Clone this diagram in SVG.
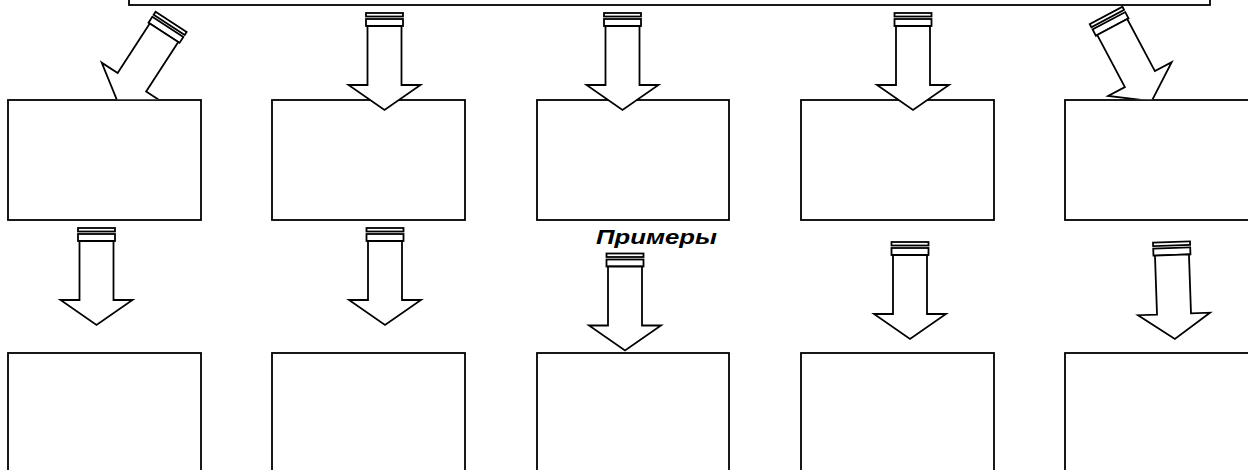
<svg xmlns="http://www.w3.org/2000/svg" xmlns:xlink="http://www.w3.org/1999/xlink" width="1248" height="470" viewBox="0 0 1248 470">
<style>
.box{fill:#fff;stroke:#000;stroke-width:1.8}
.arr{fill:#fff;stroke:#000;stroke-width:1.8;stroke-linejoin:miter}
.lbl{font-family:"Liberation Sans",Arial,sans-serif;font-weight:bold;font-style:italic;font-size:21px;fill:#000}
</style>
<defs>
<g id="arrow" class="arr">
<rect x="-18.5" y="0" width="37" height="3.5"/>
<rect x="-18.5" y="6" width="37" height="7"/>
<polygon points="-17,13 17,13 17,72 36,72 0,97 -36,72 -17,72"/>
</g>
<clipPath id="cut" clipPathUnits="userSpaceOnUse">
<rect x="0" y="-20" width="1248" height="119.2"/>
</clipPath>
</defs>
<rect width="1248" height="470" fill="#fff"/>
<g id="top-box"><rect class="box" x="129" y="-10" width="1081" height="15"/></g>
<g id="box-1-1"><rect class="box" x="8" y="100" width="193" height="120"/></g>
<g id="box-1-2"><rect class="box" x="272" y="100" width="193" height="120"/></g>
<g id="box-1-3"><rect class="box" x="537" y="100" width="192" height="120"/></g>
<g id="box-1-4"><rect class="box" x="801" y="100" width="193" height="120"/></g>
<g id="box-1-5"><rect class="box" x="1065" y="100" width="193" height="120"/></g>
<g id="box-2-1"><rect class="box" x="8" y="353" width="193" height="127"/></g>
<g id="box-2-2"><rect class="box" x="272" y="353" width="193" height="127"/></g>
<g id="box-2-3"><rect class="box" x="537" y="353" width="192" height="127"/></g>
<g id="box-2-4"><rect class="box" x="801" y="353" width="193" height="127"/></g>
<g id="box-2-5"><rect class="box" x="1065" y="353" width="193" height="127"/></g>
<g id="connectors">
<g clip-path="url(#cut)"><use xlink:href="#arrow" transform="translate(171.1,21.9) rotate(33)"/></g>
<use xlink:href="#arrow" transform="translate(384.5,13)"/>
<use xlink:href="#arrow" transform="translate(622.5,13)"/>
<use xlink:href="#arrow" transform="translate(913,13)"/>
<g clip-path="url(#cut)"><use xlink:href="#arrow" transform="translate(1106.1,15.5) rotate(-28)"/></g>
<use xlink:href="#arrow" transform="translate(96.5,228)"/>
<use xlink:href="#arrow" transform="translate(385,228)"/>
<use xlink:href="#arrow" transform="translate(625,253.5)"/>
<use xlink:href="#arrow" transform="translate(910,242)"/>
<use xlink:href="#arrow" transform="translate(1171.5,242) rotate(-2)"/>
</g>
<g id="label"><text class="lbl" x="596" y="244" textLength="121" lengthAdjust="spacingAndGlyphs">Примеры</text></g>
</svg>
